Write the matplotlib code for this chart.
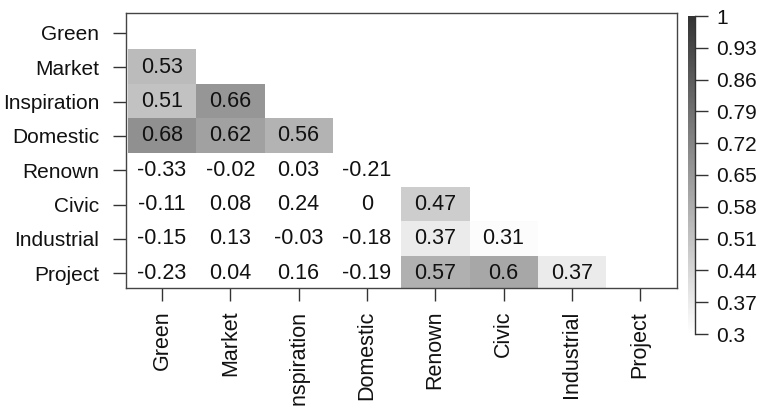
import matplotlib
matplotlib.use('Agg')
import matplotlib.pyplot as plt
import numpy as np
from matplotlib.colors import LinearSegmentedColormap, Normalize

plt.rcParams['font.family'] = ['Liberation Sans', 'DejaVu Sans']

names = ['Green', 'Market', 'Inspiration', 'Domestic',
         'Renown', 'Civic', 'Industrial', 'Project']

# lower triangle of the correlation matrix, one list per row
rows = [
    [],
    [0.53],
    [0.51, 0.66],
    [0.68, 0.62, 0.56],
    [-0.33, -0.02, 0.03, -0.21],
    [-0.11, 0.08, 0.24, 0, 0.47],
    [-0.15, 0.13, -0.03, -0.18, 0.37, 0.31],
    [-0.23, 0.04, 0.16, -0.19, 0.57, 0.6, 0.37],
]

cbar_ticks = [0.3, 0.37, 0.44, 0.51, 0.58, 0.65, 0.72, 0.79, 0.86, 0.93, 1]
vmin, vmax = 0.3, 1.0

n = len(names)
mat = np.full((n, n), np.nan)
for i, r in enumerate(rows):
    for j, v in enumerate(r):
        mat[i, j] = v

# only shade the cells at or above the lower end of the scale
shade = np.ma.masked_where(~(mat >= vmin), mat)

cmap = LinearSegmentedColormap.from_list('grey', ['#ffffff', '#333333'])
norm = Normalize(vmin=vmin, vmax=vmax)

fig = plt.figure(figsize=(7.62, 4.08), dpi=100)
ax = fig.add_axes([126 / 762, 1 - 288 / 408, 551 / 762, 275 / 408])

im = ax.imshow(shade, cmap=cmap, norm=norm, aspect='auto',
               interpolation='nearest')

for i in range(n):
    for j in range(n):
        if not np.isnan(mat[i, j]):
            ax.text(j, i, '%g' % mat[i, j], ha='center', va='center',
                    fontsize=15.5, color='#111111')

ax.set_xlim(-0.527, 7.54)
ax.set_ylim(7.43, -0.58)

ax.set_xticks(range(n))
ax.set_xticklabels(names, rotation=90, fontsize=15.5, va='top')
ax.set_yticks(range(n))
ax.set_yticklabels(names, fontsize=15)
ax.tick_params(axis='both', length=9.4, width=1.0, color='#333333',
               labelcolor='#111111')
ax.tick_params(axis='y', pad=10)
ax.tick_params(axis='x', pad=7)
for s in ax.spines.values():
    s.set_color('#444444')
    s.set_linewidth(1.0)

# colour key
cax = fig.add_axes([688 / 762, 1 - 334 / 408, 7 / 762, 318 / 408])
cb = fig.colorbar(im, cax=cax, ticks=cbar_ticks)
cb.outline.set_visible(False)
cax.axvline(1, color='#333333', lw=1.0, clip_on=False)
cax.set_yticklabels(['%g' % t for t in cbar_ticks])
cax.tick_params(axis='y', length=9.4, width=1.0, color='#333333',
                labelsize=15, labelcolor='#111111', pad=6)

fig.savefig('out.png', dpi=100)
